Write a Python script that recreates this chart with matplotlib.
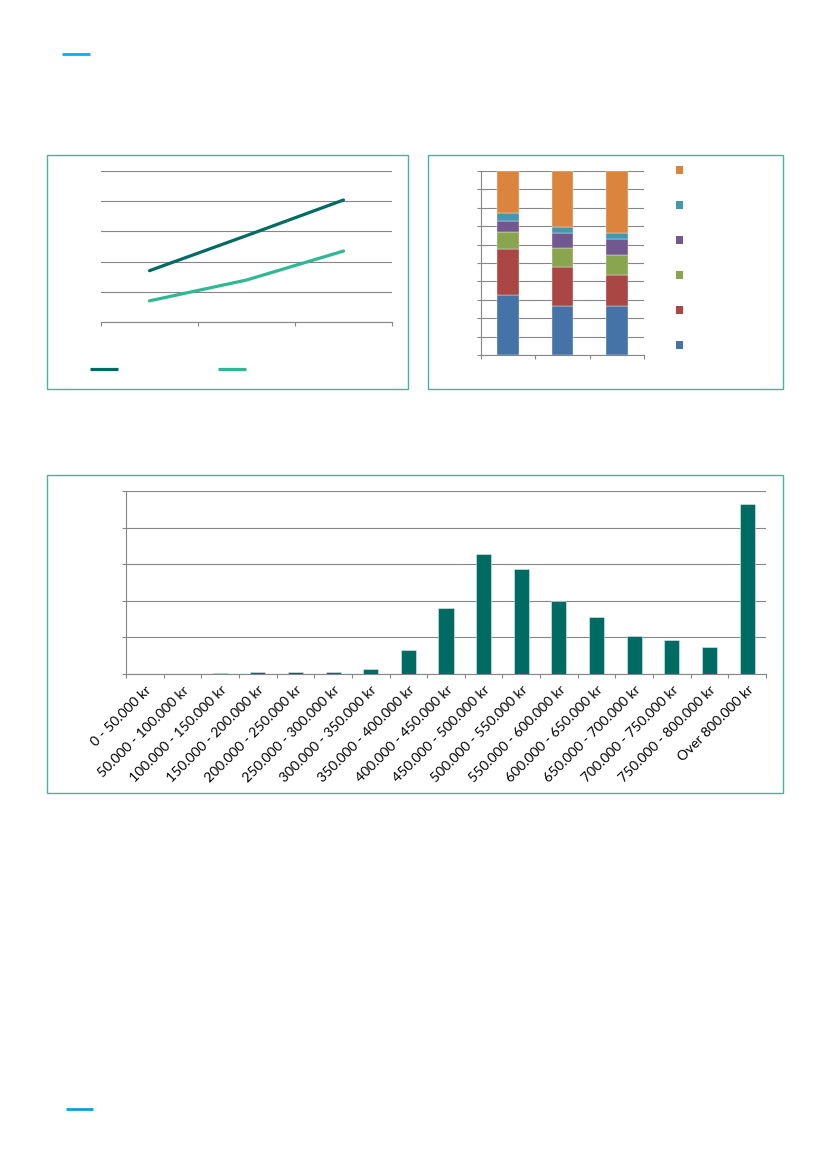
import matplotlib.pyplot as plt
from matplotlib.patches import Rectangle
from matplotlib.lines import Line2D
import numpy as np

plt.rcParams['font.family'] = ['Lato', 'DejaVu Sans']

W, H = 827, 1169

# chart 1: two lines over three periods
line_dark = [1.70, 2.86, 4.04]
line_light = [0.70, 1.39, 2.35]

# chart 2: stacked shares (percent), bottom to top
stack_blue = [32.5, 26.9, 26.9]
stack_red = [25.2, 21.0, 16.7]
stack_green = [9.3, 10.4, 10.7]
stack_purple = [5.6, 7.8, 8.5]
stack_teal = [4.5, 3.6, 3.3]
stack_orange = [22.9, 30.3, 33.9]

# chart 3: distribution by income band
bands = ["0 - 50.000 kr", "50.000 - 100.000 kr", "100.000 - 150.000 kr",
         "150.000 - 200.000 kr", "200.000 - 250.000 kr", "250.000 - 300.000 kr",
         "300.000 - 350.000 kr", "350.000 - 400.000 kr", "400.000 - 450.000 kr",
         "450.000 - 500.000 kr", "500.000 - 550.000 kr", "550.000 - 600.000 kr",
         "600.000 - 650.000 kr", "650.000 - 700.000 kr", "700.000 - 750.000 kr",
         "750.000 - 800.000 kr", "Over 800.000 kr"]
band_values = [0.01, 0.0, 0.03, 0.064, 0.064, 0.064, 0.13, 0.656, 1.81,
               3.27, 2.86, 1.99, 1.56, 1.04, 0.93, 0.75, 4.64]

GRID = '#868686'
BOX = '#45B59B'
DARK = '#006B63'
LIGHT = '#2EB894'
stack_colors = ['#4572A7', '#AA4643', '#89A54E', '#71588F', '#4198AF', '#DB843D']

fig = plt.figure(figsize=(W / 100, H / 100), dpi=100)


def fx(x):
    return x / W


def fy(y):
    return 1 - y / H


def px_axes(l, t, r, b):
    return fig.add_axes([fx(l), fy(b), (r - l) / W, (b - t) / H])


def box(l, t, r, b):
    fig.patches.append(Rectangle((fx(l), fy(b)), (r - l) / W, (b - t) / H,
                                 transform=fig.transFigure, fill=False,
                                 edgecolor=BOX, linewidth=1.0))


def hline(x0, x1, y, color, lw):
    fig.lines.append(Line2D([fx(x0), fx(x1)], [fy(y), fy(y)],
                            transform=fig.transFigure, color=color,
                            linewidth=lw, solid_capstyle='butt'))


# page decorations
hline(62, 90, 54, '#00B0F0', 2.0)
hline(66, 93, 1109, '#0FA0D0', 2.0)

box(47, 155, 408, 389)
box(428, 155, 783, 389)
box(47, 475, 783, 793)

# ---- chart 1
ax1 = px_axes(101, 171, 392, 322)
x = np.arange(3)
ax1.plot(x, line_dark, color=DARK, linewidth=2.3, solid_capstyle='round')
ax1.plot(x, line_light, color=LIGHT, linewidth=2.3, solid_capstyle='round')
ax1.set_xlim(-0.5, 2.5)
ax1.set_ylim(0, 5)
ax1.set_yticks(np.arange(0, 6))
ax1.set_xticks([-0.5, 0.5, 1.5, 2.5])
ax1.grid(axis='y', color=GRID, linewidth=0.8)
ax1.set_axisbelow(True)
for s in ['left', 'top', 'right']:
    ax1.spines[s].set_visible(False)
ax1.spines['bottom'].set_color(GRID)
ax1.spines['bottom'].set_linewidth(0.8)
ax1.tick_params(axis='y', length=0, labelleft=False)
ax1.tick_params(axis='x', length=3, color=GRID, width=0.8, labelbottom=False)

hline(90, 118, 369, DARK, 2.3)
hline(218, 246, 369, LIGHT, 2.3)

# ---- chart 2
ax2 = px_axes(481, 171, 644, 355)
stacks = [stack_blue, stack_red, stack_green, stack_purple, stack_teal, stack_orange]
bottom = np.zeros(3)
for vals, c in zip(stacks, stack_colors):
    ax2.bar(x, vals, width=0.4, bottom=bottom, color=c, edgecolor='#E8EEF4',
            linewidth=0.3, zorder=3)
    bottom += np.array(vals)
ax2.set_xlim(-0.5, 2.5)
ax2.set_ylim(0, 100)
ax2.set_yticks(np.arange(0, 101, 10))
ax2.set_xticks([-0.5, 0.5, 1.5, 2.5])
ax2.grid(axis='y', color=GRID, linewidth=0.8, zorder=0)
for s in ['top', 'right']:
    ax2.spines[s].set_visible(False)
for s in ['left', 'bottom']:
    ax2.spines[s].set_color(GRID)
    ax2.spines[s].set_linewidth(0.8)
ax2.tick_params(length=3, color=GRID, width=0.8, labelleft=False, labelbottom=False)

# legend keys (labels are blank in the original)
lax = px_axes(672, 152.5, 687, 362.5)
lax.set_xlim(0, 1)
lax.set_ylim(-0.5, 5.5)
lax.axis('off')
for i, c in enumerate(stack_colors):
    lax.scatter([0.5], [i], marker='s', s=30, color=c, edgecolors='none')

# ---- chart 3
ax3 = px_axes(126, 491, 766, 674)
xb = np.arange(len(bands))
ax3.bar(xb, band_values, width=0.4, color=DARK, edgecolor='#DDEEEC',
        linewidth=0.4, zorder=3)
ax3.set_xlim(-0.5, len(bands) - 0.5)
ax3.set_ylim(0, 5)
ax3.set_yticks(np.arange(0, 6))
ax3.set_xticks(xb)
ax3.set_xticklabels(bands, rotation=45, ha='right', rotation_mode='anchor',
                    fontsize=10, color='#000000')
ax3.set_xticks(np.arange(-0.5, len(bands)), minor=True)
ax3.grid(axis='y', color=GRID, linewidth=0.8, zorder=0)
for s in ['top', 'right']:
    ax3.spines[s].set_visible(False)
for s in ['left', 'bottom']:
    ax3.spines[s].set_color(GRID)
    ax3.spines[s].set_linewidth(0.8)
ax3.tick_params(axis='x', which='major', length=0, pad=7)
ax3.tick_params(axis='x', which='minor', length=3, color=GRID, width=0.8)
ax3.tick_params(axis='y', length=3, color=GRID, width=0.8, labelleft=False)

fig.savefig('out.png', dpi=100)
